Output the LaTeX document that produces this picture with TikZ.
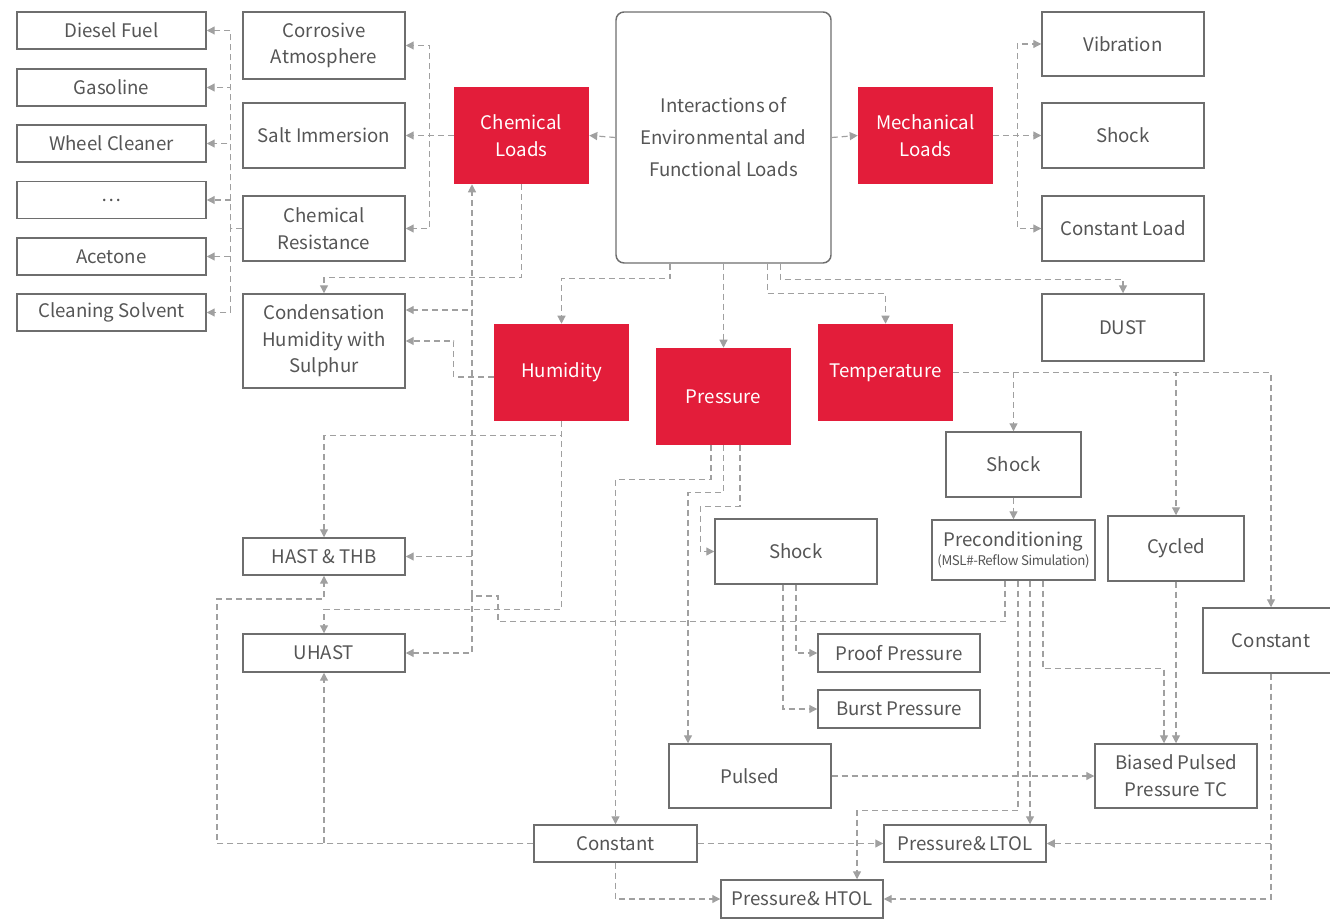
\documentclass[tikz,border=0pt]{standalone}
\usepackage{fontspec}
\setmainfont{Noto Sans CJK SC}
\newfontfamily\tightfont{Noto Sans CJK SC}[LetterSpace=-3]
\usetikzlibrary{arrows.meta,calc}
\definecolor{loadred}{RGB}{227,29,58}
\definecolor{txtgray}{RGB}{85,85,85}
\definecolor{boxgray}{RGB}{110,110,110}
\definecolor{linkgray}{RGB}{160,160,160}
\begin{document}
\begin{tikzpicture}[x=0.75pt,y=-0.75pt,
        every node/.style={font=\fontsize{14}{20}\selectfont, text=txtgray, align=center, inner sep=0pt},
        box/.style={draw=boxgray, line width=1.1pt, fill=white},
        leftbox/.style={box, minimum width=141.75pt, minimum height=27.75pt},
        widebox/.style={box, minimum width=121.5pt, minimum height=48.75pt},
        slimbox/.style={box, minimum width=121.5pt, minimum height=27.75pt},
        smallbox/.style={box, minimum width=101.25pt, minimum height=48.75pt},
        load/.style={fill=loadred, text=white, minimum width=101.25pt, minimum height=72.75pt},
        link/.style={draw=linkgray, line width=0.9pt, dash pattern=on 4.5pt off 3pt, -{Triangle[length=6pt,width=6pt]}}]
        \useasboundingbox (0,0) rectangle (1330,919);

        \node[leftbox] (diesel) at (111.5,30.5) {Diesel Fuel};
        \node[leftbox] (gasoline) at (111.5,87.5) {Gasoline};
        \node[leftbox] (wheel) at (111.5,143.5) {Wheel Cleaner};
        \node[leftbox] (dots) at (111.5,200) {…};
        \node[leftbox] (acetone) at (111.5,256.5) {Acetone};
        \node[leftbox] (solvent) at (111.5,312.5) {Cleaning Solvent};

        \node[widebox, minimum height=50.25pt] (corr) at (324,45.5) {Corrosive\\Atmosphere};
        \node[widebox] (salt) at (324,135.5) {Salt Immersion};
        \node[widebox] (chres) at (324,228.5) {Chemical\\Resistance};
        \node[widebox, minimum height=70.5pt] (cond) at (324,341) {Condensation\\Humidity with\\Sulphur};
        \node[slimbox] (hast) at (324,556.5) {HAST \& THB};
        \node[slimbox, minimum height=28.5pt] (uhast) at (324,653) {UHAST};

        \node[box, rounded corners=6pt, minimum width=161.25pt, minimum height=188.25pt, font=\fontsize{14}{24}\selectfont] (inter) at (723.5,137.5) {Interactions of\\Environmental and\\Functional Loads};

        \node[load] (chem) at (521.5,135.5) {Chemical\\Loads};
        \node[load] (mech) at (925.5,135.5) {Mechanical\\Loads};
        \node[load] (hum) at (561.5,372.5) {Humidity};
        \node[load] (pres) at (723.5,396.5) {Pressure};
        \node[load] (temp) at (885.5,372.5) {Temperature};

        \node[widebox, minimum height=48pt] (vib) at (1123,44) {Vibration};
        \node[widebox] (shockm) at (1123,135.5) {Shock};
        \node[widebox] (cload) at (1123,228.5) {Constant Load};
        \node[widebox, minimum height=50.25pt] (dust) at (1123,327.5) {DUST};

        \node[smallbox] (shockt) at (1013.5,464.5) {Shock};
        \node[box, minimum width=122.25pt, minimum height=45pt] (precond) at (1013.5,550) {Preconditioning\\[-6pt]{\tightfont\fontsize{10}{12}\selectfont(MSL\#-Reflow Simulation)}};
        \node[box, minimum width=102pt, minimum height=48.75pt] (cycled) at (1176,548.5) {Cycled};
        \node[box, minimum width=102pt, minimum height=48.75pt] (constr) at (1271,640.5) {Constant};

        \node[widebox] (shockp) at (796,551.5) {Shock};
        \node[slimbox, minimum height=28.5pt] (proof) at (899,653) {Proof Pressure};
        \node[slimbox, minimum height=28.5pt] (burst) at (899,709) {Burst Pressure};
        \node[widebox, minimum height=48pt] (pulsed) at (750,776) {Pulsed};
        \node[widebox, minimum height=48pt] (biased) at (1176,776) {Biased Pulsed\\Pressure TC};
        \node[slimbox, minimum width=122.25pt] (constb) at (615.5,843.5) {Constant};
        \node[slimbox] (ltol) at (965,843.5) {Pressure\& LTOL};
        \node[slimbox, minimum height=28.5pt] (htol) at (802,899) {Pressure\& HTOL};

        \draw[link] (inter.west) -- (chem.east);
        \draw[link] (inter.east) -- (mech.west);
        \draw[link] (inter.south) -- (pres.north);
        \draw[link] ($(inter.south)+(-53.5,0)$) -- ++(0,15) -| (hum.north);
        \draw[link] ($(inter.south)+(44,0)$) -- ++(0,30) -| (temp.north);
        \draw[link] ($(inter.south)+(57,0)$) -- ++(0,16) -| (dust.north);

        \draw[link] (chem.west) -- (salt.east);
        \draw[link] (chem.west) -- ++(-24,0) |- (corr.east);
        \draw[link] (chem.west) -- ++(-24,0) |- (chres.east);
        \foreach \n in {diesel,gasoline,wheel,dots,acetone,solvent}
            \draw[link] (chres.west) -- ++(-12,0) |- (\n.east);
        \draw[link] (chem.south) -- ++(0,93) -| (cond.north);

        \foreach \n in {vib,shockm,cload}
            \draw[link] (mech.east) -- ++(24,0) |- (\n.west);

        \draw[link] ($(hum.west)+(0,4.5)$) -- ++(-40,0) |- (cond.east);
        \draw[link] (hum.south) -- ++(0,14) -| (hast.north);
        \draw[link] (hum.south) -- ++(0,188) -| (uhast.north);

        \coordinate (jog) at (472,596);
        \draw[link] ($(precond.south)+(-8.5,0)$) -- ++(0,41) -| (498,596) -- (jog) -- ($(chem.south)+(-49.5,0)$);
        \draw[link] (jog) |- ($(cond.east)+(0,-31)$);
        \draw[link] (jog) |- (hast.east);
        \draw[link] (jog) |- (uhast.east);

        \draw[link] ($(pres.south)+(-12.5,0)$) -- ++(0,34) -| (constb.north);
        \draw[link] (pres.south) -- ++(0,47) -| ($(pulsed.north)+(-62,0)$);
        \draw[link] ($(pres.south)+(16.5,0)$) -- ++(0,61) -| ($(shockp.west)+(-14,0)$) -- (shockp.west);
        \draw[link] (shockp.south) |- (proof.west);
        \draw[link] ($(shockp.south)+(-13,0)$) |- (burst.west);

        \foreach \n in {shockt,cycled,constr}
            \draw[link] (temp.east) -| (\n.north);
        \draw[link] (shockt.south) -- (precond.north);
        \draw[link] ($(precond.south)+(4.5,0)$) -- ++(0,230) -| ($(htol.north)+(55,0)$);
        \draw[link] ($(precond.south)+(16.5,0)$) -- ($(ltol.north)+(65,0)$);
        \draw[link] ($(precond.south)+(29.5,0)$) -- ++(0,88) -| ($(biased.north)+(-12,0)$);
        \draw[link] (cycled.south) -- (biased.north);

        \draw[link] (pulsed.east) -- (biased.west);
        \draw[link] (constb.east) -- (ltol.west);
        \draw[link] (constb.south) |- (htol.west);
        \draw[link] (constb.west) -| (217,599) -| (hast.south);
        \draw[link] (constb.west) -| (uhast.south);
        \draw[link] (constr.south) |- (ltol.east);
        \draw[link] (constr.south) |- (htol.east);
    \end{tikzpicture}
\end{document}
